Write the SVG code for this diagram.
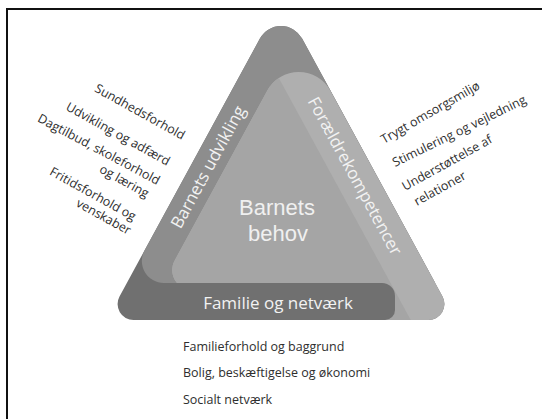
<svg xmlns="http://www.w3.org/2000/svg" width="542" height="419" viewBox="0 0 542 419">
  <style>
    .band { font-family: "Open Sans", "Noto Sans", sans-serif; font-size: 17px; fill: #f2f2f2; text-anchor: middle; }
    .core { font-family: "Liberation Sans", Arial, sans-serif; font-size: 22px; fill: #f0f0f0; text-anchor: middle; }
    .lbl { font-family: "Open Sans", "Noto Sans", sans-serif; font-size: 12.5px; fill: #2e2e2e; }
    .end { text-anchor: end; }
    .dark { fill: #707070; }
    .mid { fill: #8d8d8d; }
    .light { fill: #afafaf; }
    .inner { fill: #a5a5a5; }
  </style>
  <defs>
    <path id="lightShape" d="M267.2,90.7 A36,36 0 0 1 330.4,90.7 L442.5,296.4 A16,16 0 0 1 428.5,320 L220,320 L220,290 L192.3,290 A20,20 0 0 1 174.7,260.4 Z"/>
    <clipPath id="innerClip">
      <polygon points="0,0 236.3,0 464.7,419 0,419"/>
    </clipPath>
  </defs>
  <rect width="542" height="419" fill="#ffffff"/>
  <path d="M7,419 V9 H542" fill="none" stroke="#111111" stroke-width="2"/>

  <g id="familie-og-netvaerk-base">
    <path class="dark" d="M259.9,38.6 A24,24 0 0 1 302.1,38.6 L442.5,296.4 A16,16 0 0 1 428.5,320 L133.5,320 A16,16 0 0 1 119.5,296.4 Z"/>
  </g>

  <g id="barnets-udvikling">
    <path class="mid" d="M259.9,38.6 A24,24 0 0 1 302.1,38.6 L435.2,283 L163.8,283 A22,22 0 0 1 144.5,250.5 Z"/>
    <text class="band" transform="translate(208,167) rotate(-61.4)" dy="0.35em">Barnets udvikling</text>
  </g>

  <g id="foraeldrekompetencer">
    <use href="#lightShape" class="light"/>
    <text class="band" transform="translate(355,176) rotate(61.4)" dy="0.35em">Forældrekompetencer</text>
  </g>

  <g id="barnets-behov">
    <use href="#lightShape" class="inner" clip-path="url(#innerClip)"/>
    <text class="core" x="277" y="215">Barnets</text>
    <text class="core" x="278" y="241">behov</text>
  </g>

  <g id="familie-og-netvaerk">
    <path class="dark" d="M135,283 H382 A13,13 0 0 1 395,296 V310 A10,10 0 0 1 385,320 H135 Z"/>
    <text class="band" x="278" y="309">Familie og netværk</text>
  </g>

  <g id="connectors"/>

  <g id="labels-barnets-udvikling">
    <text class="lbl end" transform="translate(182,140) rotate(29)">Sundhedsforhold</text>
    <text class="lbl end" transform="translate(167,166) rotate(29)">Udvikling og adfærd</text>
    <text class="lbl end" transform="translate(157,185) rotate(28)">Dagtilbud, skoleforhold</text>
    <text class="lbl end" transform="translate(146,198) rotate(29)">og læring</text>
    <text class="lbl end" transform="translate(133,221) rotate(29)">Fritidsforhold og</text>
    <text class="lbl end" transform="translate(128,235) rotate(29)">venskaber</text>
  </g>

  <g id="labels-foraeldrekompetencer">
    <text class="lbl" transform="translate(384,144) rotate(-30)">Trygt omsorgsmiljø</text>
    <text class="lbl" transform="translate(395,167) rotate(-26)">Stimulering og vejledning</text>
    <text class="lbl" transform="translate(405,191) rotate(-29)">Understøttelse af</text>
    <text class="lbl" transform="translate(417,206) rotate(-29)">relationer</text>
  </g>

  <g id="labels-familie-og-netvaerk">
    <text class="lbl" x="183" y="351">Familieforhold og baggrund</text>
    <text class="lbl" x="183" y="377">Bolig, beskæftigelse og økonomi</text>
    <text class="lbl" x="183" y="404">Socialt netværk</text>
  </g>
</svg>
